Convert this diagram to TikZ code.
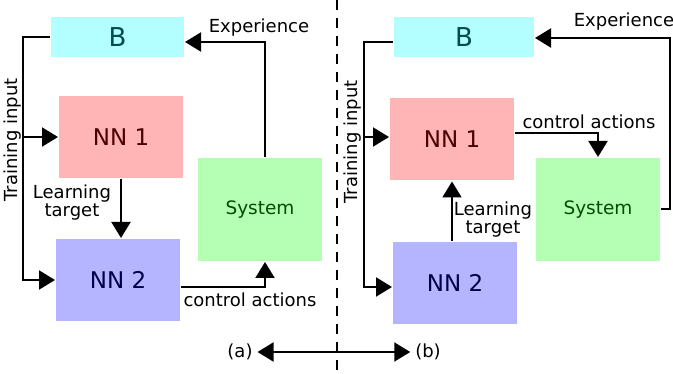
\documentclass[tikz,border=0pt]{standalone}
\usepackage{fontspec}
\setmainfont{DejaVu Sans}
\usetikzlibrary{positioning,arrows.meta}

\definecolor{bfill}{RGB}{179,255,255}
\definecolor{btext}{RGB}{0,77,77}
\definecolor{nnonefill}{RGB}{255,181,181}
\definecolor{nnonetext}{RGB}{77,0,0}
\definecolor{nntwofill}{RGB}{181,181,255}
\definecolor{nntwotext}{RGB}{0,0,77}
\definecolor{sysfill}{RGB}{181,255,181}
\definecolor{systext}{RGB}{0,77,0}

\tikzset{
	blk/.style={inner sep=0pt, minimum width=124pt, minimum height=82pt},
	bbox/.style={blk, fill=bfill, text=btext, minimum height=40pt, font=\fontsize{26}{28}\selectfont},
	nnone/.style={blk, fill=nnonefill, text=nnonetext, font=\fontsize{23}{25}\selectfont},
	nntwo/.style={blk, fill=nntwofill, text=nntwotext, font=\fontsize{23}{25}\selectfont},
	sysbox/.style={blk, fill=sysfill, text=systext, minimum height=103pt, font=\fontsize{18.5}{20}\selectfont},
	lbl/.style={inner sep=0pt, align=center, font=\fontsize{18}{18}\selectfont}
}

\begin{document}
\begin{tikzpicture}[x=1pt, y=-1pt, line width=2pt, >={Triangle[length=16pt,width=19pt]}]
	\useasboundingbox (0,0) rectangle (673,374);

	% (a)
	\node[bbox, minimum width=133pt] (Ba) at (117.5,37) {B};
	\node[nnone] (N1a) at (121,137) {NN 1};
	\node[sysbox] (Sa) at (260,209.5) {System};
	\node[nntwo] (N2a) at (118,280) {NN 2};

	\coordinate (tla) at (23,137);
	\coordinate (ea) at (265,42);
	\coordinate (ca) at (265,287);

	\draw[->] (Ba.west) -| (tla) |- (N2a.west);
	\draw[->] (tla) -- (N1a.west);
	\draw[->] (Sa.north -| ea) |- (Ba.east |- ea);
	\draw[->] (N1a.south) -- (N1a.south |- N2a.north);
	\draw[->] (N2a.east |- ca) -| (Sa.south -| ca);

	\node[lbl] (expa) at (259,28) {Experience};
	\node[lbl] (lta) at (72,203) {Learning\\target};
	\node[lbl] (caa) at (250,300) {control actions};
	\node[lbl, rotate=90] (tia) at (13,140) {Training input};

	% (b)
	\node[bbox, minimum width=140pt] (Bb) at (464,37.5) {B};
	\node[nnone] (N1b) at (452,139.5) {NN 1};
	\node[sysbox] (Sb) at (598,209.5) {System};
	\node[nntwo] (N2b) at (455,283) {NN 2};

	\coordinate (tlb) at (364,137);
	\coordinate (eb) at (670,38);

	\draw[->] ([yshift=-4.5pt]Bb.west) -| (tlb) |- ([yshift=-4pt]N2b.west);
	\draw[->] (tlb) -- (tlb -| N1b.west);
	\draw[->] ([yshift=6.5pt]N1b.east) -| (Sb.north);
	\draw[->] (Sb.east) -| (eb) -- (Bb.east |- eb);
	\draw[->] (N2b.north -| N1b.south) -- (N1b.south);

	\node[lbl] (expb) at (624,22) {Experience};
	\node[lbl] (ltb) at (493,220) {Learning\\target};
	\node[lbl] (cab) at (589,122) {control actions};
	\node[lbl, rotate=90] (tib) at (353,142) {Training input};

	% divider
	\coordinate (dtop) at (337,0);
	\coordinate (dbot) at (337,374);
	\draw[dash pattern=on 10pt off 8pt] (dtop) -- (dbot);

	\node[lbl, inner sep=4pt] (pa) at (240,352) {(a)};
	\node[lbl, inner sep=4pt] (pb) at (428,352) {(b)};
	\draw[<->] (pa) -- (pb);
\end{tikzpicture}
\end{document}
